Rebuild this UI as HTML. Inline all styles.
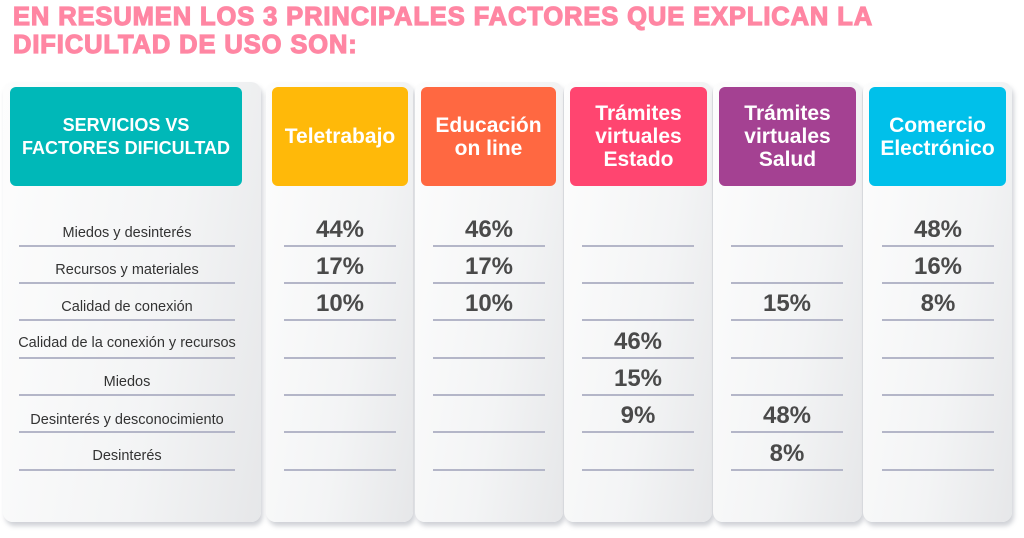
<!DOCTYPE html>
<html><head><meta charset="utf-8"><style>
body{margin:0;width:1024px;height:538px;background:#fff;position:relative;overflow:hidden;font-family:"Liberation Sans",sans-serif}
.t{position:absolute;left:13px;top:3px;color:#ff86a3;font-weight:900;font-size:25.5px;line-height:28px;letter-spacing:0.9px;-webkit-text-stroke:1.2px #ff86a3;white-space:nowrap}
.p{position:absolute;top:82px;height:440px;border-radius:10px;background:linear-gradient(100deg,#fdfdfd 0%,#f3f4f5 60%,#e6e7e9 100%);box-shadow:2px 4px 5px rgba(120,125,140,.35)}
.h{position:absolute;top:87px;height:99px;border-radius:6px;color:#fff;font-weight:bold;display:flex;align-items:center;justify-content:center;text-align:center;font-size:21px;line-height:23px}
.l{position:absolute;height:2px;background:#b4b6c8}
.v{position:absolute;font-weight:bold;font-size:24px;color:#4a4a4a;text-align:center;width:120px}
.r{position:absolute;left:7px;width:240px;text-align:center;font-size:14.5px;color:#333;white-space:nowrap}
</style></head><body>
<div class="t">EN RESUMEN LOS 3 PRINCIPALES FACTORES QUE EXPLICAN LA<br>DIFICULTAD DE USO SON:</div>
<div class="p" style="left:3px;width:258px"></div>
<div class="p" style="left:266px;width:147px"></div>
<div class="p" style="left:415px;width:148px"></div>
<div class="p" style="left:564px;width:148px"></div>
<div class="p" style="left:713px;width:149px"></div>
<div class="p" style="left:863px;width:149px"></div>
<div class="h" style="left:10px;width:232px;background:#00b8b8;font-size:18px;line-height:23px">SERVICIOS VS<br>FACTORES DIFICULTAD</div>
<div class="h" style="left:272px;width:136px;background:#ffb909">Teletrabajo</div>
<div class="h" style="left:421px;width:135px;background:#ff6841">Educación<br>on line</div>
<div class="h" style="left:570px;width:137px;background:#ff4570">Trámites<br>virtuales<br>Estado</div>
<div class="h" style="left:719px;width:137px;background:#a44192">Trámites<br>virtuales<br>Salud</div>
<div class="h" style="left:869px;width:137px;background:#00c0ea">Comercio<br>Electrónico</div>
<div id="lines"></div>
<div class="r" style="top:225px">Miedos y desinterés</div>
<div class="r" style="top:262px">Recursos y materiales</div>
<div class="r" style="top:299px">Calidad de conexión</div>
<div class="r" style="top:335px">Calidad de la conexión y recursos</div>
<div class="r" style="top:374px">Miedos</div>
<div class="r" style="top:412px">Desinterés y desconocimiento</div>
<div class="r" style="top:448px">Desinterés</div>
<script>
var ys=[245,282,319,357,394,431,469];
var cols=[[19,216],[284,112],[433,112],[582,112],[731,112],[882,112]];
var h='';
cols.forEach(function(c){ys.forEach(function(y){h+='<div class="l" style="left:'+c[0]+'px;top:'+y+'px;width:'+c[1]+'px"></div>';});});
var vals=[[1,0,'44%'],[1,1,'17%'],[1,2,'10%'],[2,0,'46%'],[2,1,'17%'],[2,2,'10%'],[3,3,'46%'],[3,4,'15%'],[3,5,'9%'],[4,2,'15%'],[4,5,'48%'],[4,6,'8%'],[5,0,'48%'],[5,1,'16%'],[5,2,'8%']];
vals.forEach(function(v){var c=cols[v[0]];h+='<div class="v" style="left:'+(c[0]+c[1]/2-60)+'px;top:'+(ys[v[1]]-29)+'px">'+v[2]+'</div>';});
document.getElementById('lines').innerHTML=h;
</script>
</body></html>
